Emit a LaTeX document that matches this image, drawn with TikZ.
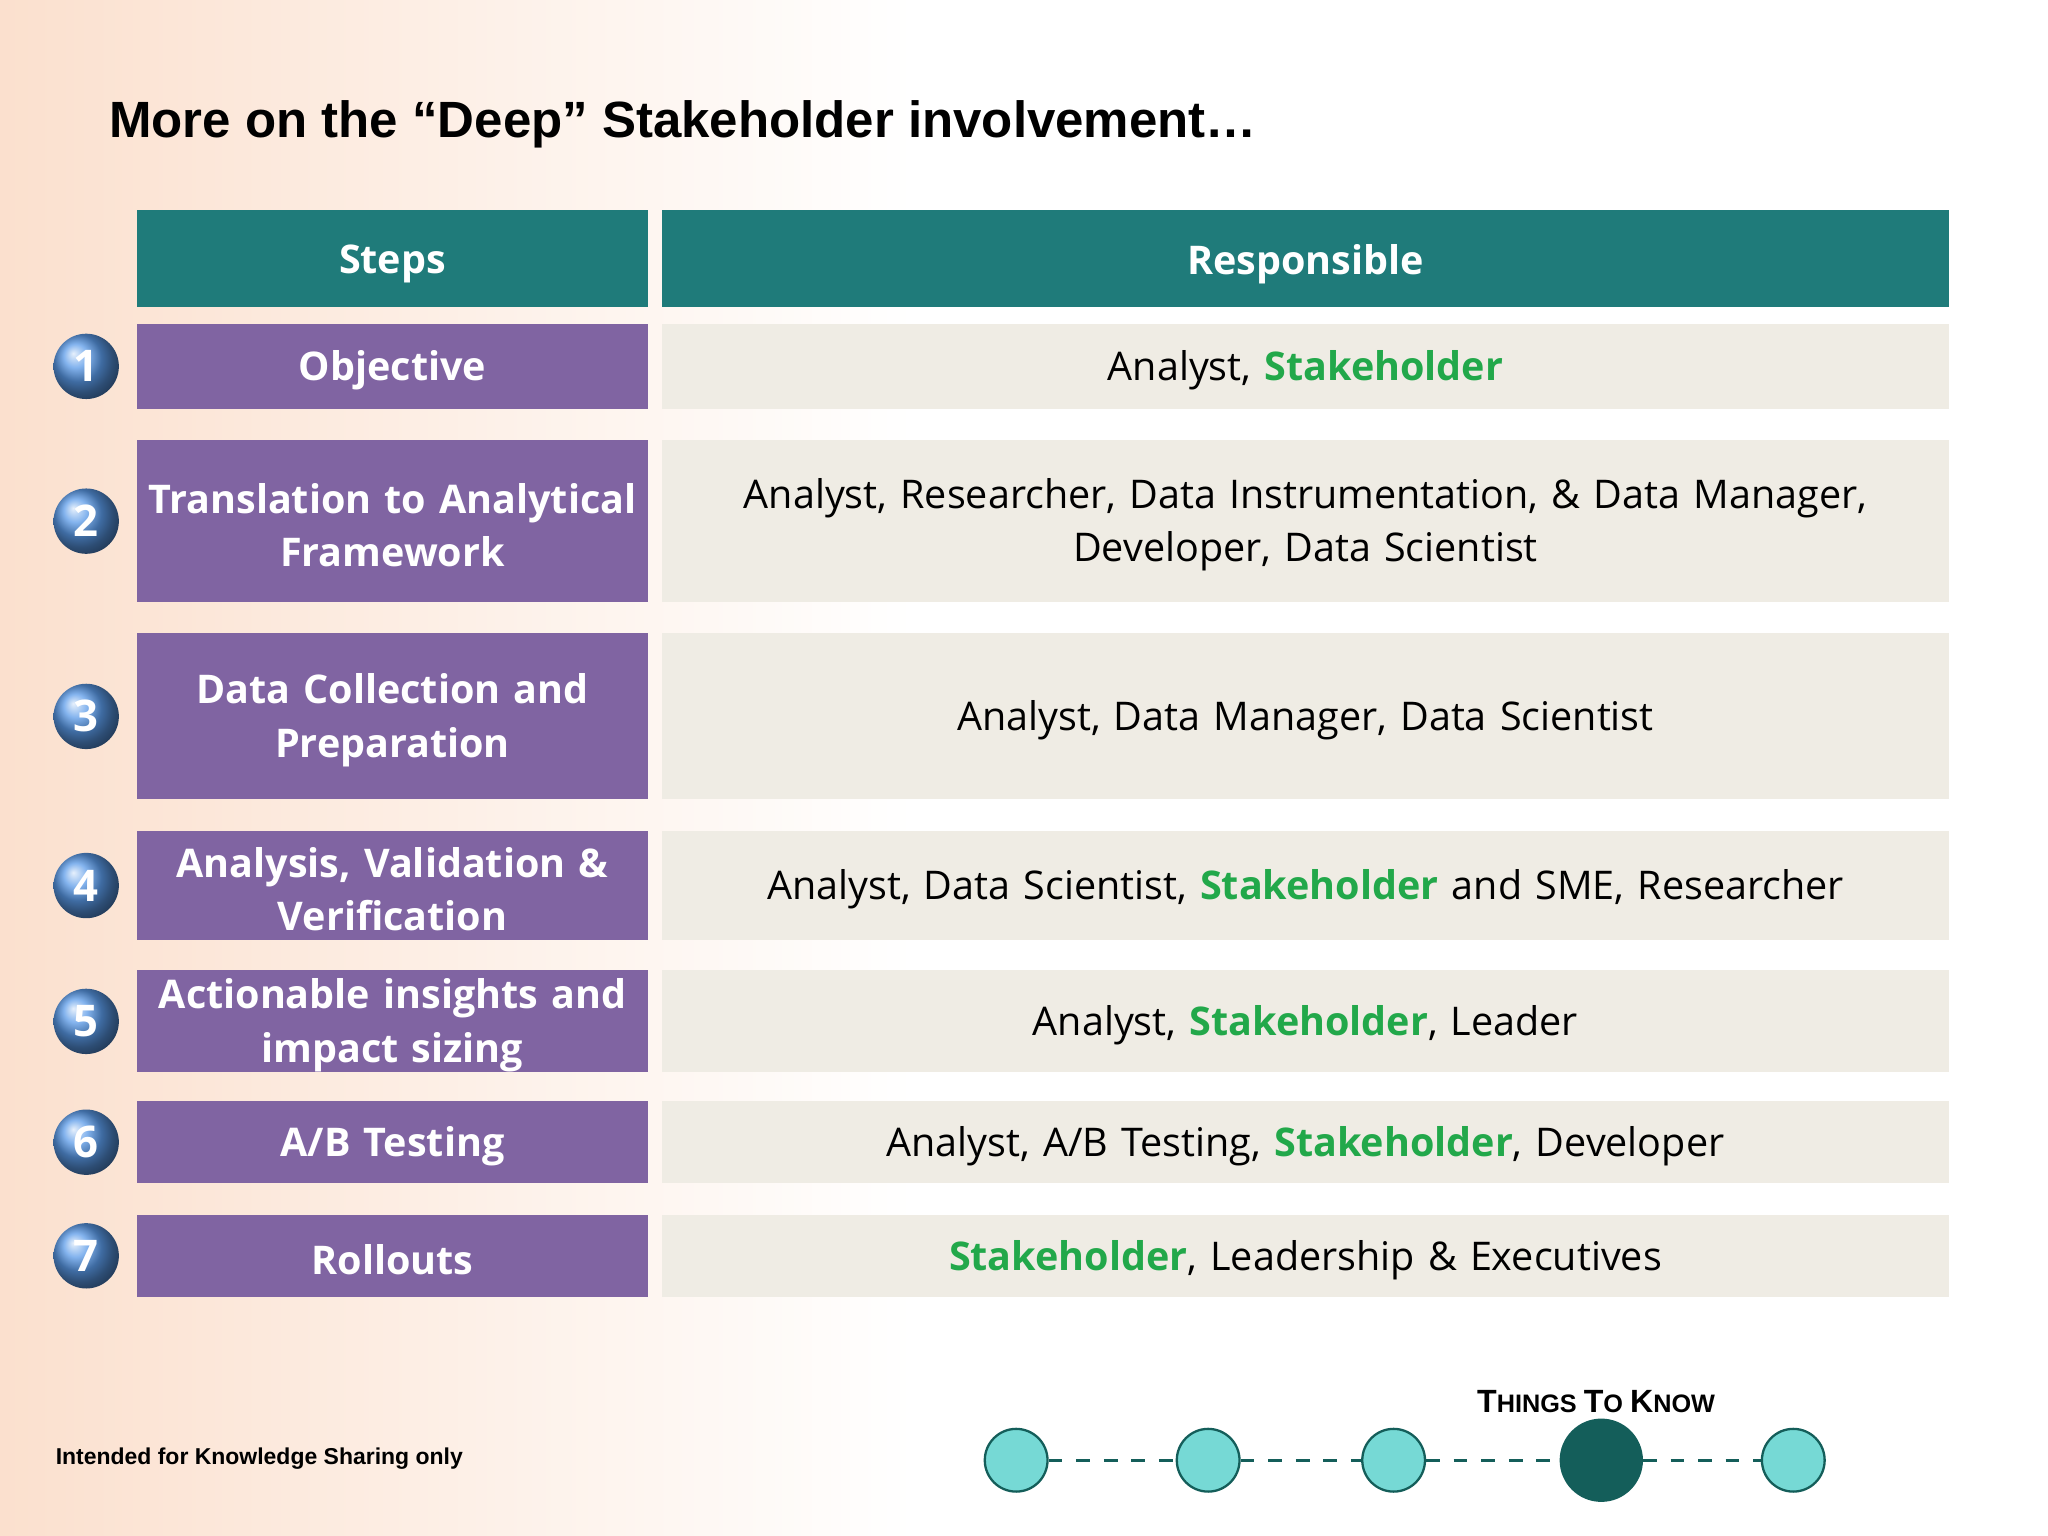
\documentclass[tikz,border=0pt]{standalone}
\usepackage{fontspec}
\setmainfont{Open Sans}
\newfontfamily\arialf{Liberation Sans}
\usetikzlibrary{shadings}
\definecolor{teal1}{HTML}{1F7B7A}
\definecolor{purp}{HTML}{8064A2}
\definecolor{cellc}{HTML}{EFECE4}
\definecolor{grn}{HTML}{22A84A}
\definecolor{peach}{HTML}{FBE0CE}
\definecolor{dotl}{HTML}{76D9D5}
\definecolor{dotd}{HTML}{145E5A}
\definecolor{blu}{HTML}{5A9AE8}
\newcommand{\sh}{\textcolor{grn}{\bfseries Stakeholder}}
\tikzset{
 stepbox/.style={text=white,font=\fontsize{8.6}{11.6}\selectfont\bfseries,align=center,inner sep=0pt,text width=3.91cm},
 respbox/.style={text=black,font=\fontsize{8.6}{11.6}\selectfont,align=center,inner sep=0pt,text width=9.85cm},
 headbox/.style={text=white,font=\fontsize{8.6}{11.6}\selectfont\bfseries,align=center,inner sep=0pt},
 numc/.style={circle,minimum size=0.5cm,inner sep=0pt,ball color=blu,text=white,font=\fontsize{9.5}{12}\selectfont\bfseries},
 dotc/.style={circle,draw=dotd,line width=0.5pt,fill=dotl,minimum size=0.48cm,inner sep=0pt},
}
\begin{document}
\begin{tikzpicture}[x=0.01cm,y=-0.01cm]
\useasboundingbox (0,0) rectangle (1568,1176);
\shade[left color=peach,right color=white] (0,0) rectangle (700,1176);
\fill[white] (700,0) rectangle (1568,1176);
\node[anchor=west,inner sep=0pt,font=\arialf\fontsize{11.1}{13}\selectfont\bfseries] (title) at (83,95) {More on the “Deep” Stakeholder involvement…};
\newcommand{\row}[5]{%
 \fill[purp] (105,#2-#3*50) rectangle (496,#2+#3*50);
 \fill[cellc] (507,#2-#3*50) rectangle (1492,#2+#3*50);
 \node[stepbox] (s#1) at (300.5,#2+3) {#4};
 \node[respbox] (r#1) at (999.5,#2+3) {#5};
 \node[numc] (n#1) at (66,#2) {#1};}
\fill[teal1] (105,161) rectangle (496,235);
\fill[teal1] (507,161) rectangle (1492,235);
\node[headbox] (hs) at (300.5,202) {Steps};
\node[headbox] (hr) at (999.5,202) {Responsible};
\row{1}{280.5}{0.65}{Objective}{Analyst, \sh}
\row{2}{399}{1.24}{Translation to Analytical\\Framework}{Analyst, Researcher, Data Instrumentation, \& Data Manager,\\Developer, Data Scientist}
\row{3}{548.5}{1.27}{Data Collection and\\Preparation}{Analyst, Data Manager, Data Scientist}
\row{4}{678}{0.84}{Analysis, Validation \&\\Verification}{Analyst, Data Scientist, \sh{} and SME, Researcher}
\row{5}{782}{0.78}{Actionable insights and\\impact sizing}{Analyst, \sh, Leader}
\row{6}{874.5}{0.63}{A/B Testing}{Analyst, A/B Testing, \sh, Developer}
\row{7}{961.5}{0.63}{Rollouts}{\sh, Leadership \& Executives}
\node[anchor=west,inner sep=0pt,font=\arialf\fontsize{5}{6}\selectfont\bfseries] (foot) at (42,1117) {Intended for Knowledge Sharing only};
\node[font=\arialf\fontsize{7}{8}\selectfont\bfseries] (ttk) at (1222,1073) {T\fontsize{5.5}{7}\selectfont HINGS \fontsize{7}{8}\selectfont T\fontsize{5.5}{7}\selectfont O \fontsize{7}{8}\selectfont K\fontsize{5.5}{7}\selectfont NOW};
\node[dotc] (d1) at (778,1118) {};
\node[dotc] (d2) at (925,1118) {};
\node[dotc] (d3) at (1067,1118) {};
\node[dotc,fill=dotd,minimum size=0.62cm] (d4) at (1226,1118) {};
\node[dotc] (d5) at (1373,1118) {};
\draw[dashed,dotd,line width=0.6pt] (d1)--(d2) (d2)--(d3) (d3)--(d4) (d4)--(d5);
\end{tikzpicture}
\end{document}
